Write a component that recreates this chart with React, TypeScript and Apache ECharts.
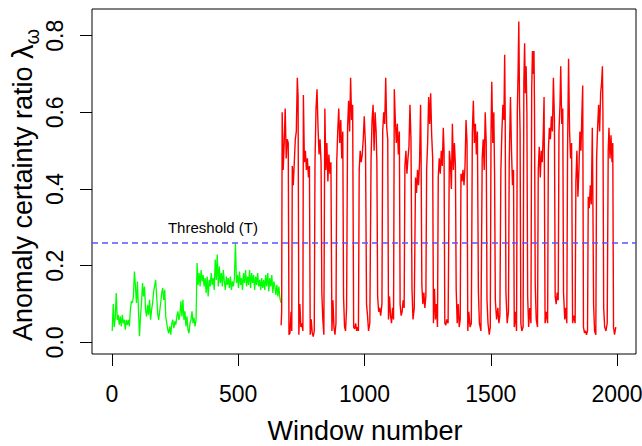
import React, { useEffect, useRef } from "react";
import * as echarts from "echarts";

const xTicks = [0, 500, 1000, 1500, 2000];
const yTicks = [0, 0.2, 0.4, 0.6, 0.8];
const threshold = 0.26;
const thresholdLabel = "Threshold (T)";
const thresholdLabelAt = [400, 0.3];
const xTitle = "Window number";
const yTitleMain = "Anomaly certainty ratio ";
const yTitleSymbol = "λ";
const yTitleSub = "ω";

// Green segment: one value every 4 windows starting at window 1
const greenStart = 1;
const greenStep = 4;
const greenValues = [
  0.03, 0.10, 0.04, 0.064, 0.129, 0.059, 0.072, 0.046, 0.068, 0.042,
  0.072, 0.05, 0.059, 0.033, 0.059, 0.046, 0.059, 0.042, 0.085, 0.107,
  0.103, 0.12, 0.185, 0.146, 0.103, 0.159, 0.085, 0.016, 0.068, 0.103,
  0.155, 0.12, 0.146, 0.085, 0.068, 0.098, 0.072, 0.111, 0.059, 0.085,
  0.103, 0.133, 0.146, 0.163, 0.12, 0.076, 0.059, 0.081, 0.103, 0.129,
  0.142, 0.111, 0.137, 0.068, 0.05, 0.033, 0.024, 0.042, 0.02, 0.05,
  0.059, 0.037, 0.055, 0.046, 0.068, 0.081, 0.059, 0.072, 0.107, 0.068,
  0.111, 0.059, 0.081, 0.042, 0.068, 0.033, 0.024, 0.05, 0.059, 0.081,
  0.05, 0.064, 0.042, 0.059, 0.207, 0.15, 0.181, 0.146, 0.189, 0.159,
  0.176, 0.146, 0.168, 0.129, 0.172, 0.12, 0.163, 0.146, 0.181, 0.15,
  0.168, 0.137, 0.216, 0.163, 0.229, 0.146, 0.198, 0.155, 0.181, 0.146,
  0.189, 0.159, 0.137, 0.172, 0.15, 0.168, 0.142, 0.172, 0.137, 0.159,
  0.146, 0.168, 0.259, 0.155, 0.176, 0.142, 0.185, 0.15, 0.168, 0.137,
  0.181, 0.155, 0.189, 0.146, 0.172, 0.15, 0.189, 0.142, 0.181, 0.155,
  0.176, 0.137, 0.172, 0.15, 0.181, 0.146, 0.163, 0.137, 0.168, 0.142,
  0.163, 0.137, 0.176, 0.146, 0.181, 0.133, 0.168, 0.146, 0.176, 0.129,
  0.159, 0.146, 0.124, 0.15, 0.12, 0.146, 0.116, 0.103,
];

// Red segment: [window, value]
const redPoints = [
  [670, 0.045], [672, 0.08],
  [674, 0.60], [678, 0.45], [682, 0.52], [686, 0.61], [690, 0.48], [694, 0.53], [698, 0.52],
  [701, 0.02], [705, 0.025], [709, 0.08], [712, 0.03],
  [714, 0.46], [718, 0.41], [722, 0.47], [726, 0.53], [730, 0.55], [734, 0.69], [737, 0.64],
  [740, 0.02], [744, 0.10], [748, 0.04], [752, 0.05], [756, 0.03],
  [758, 0.645], [762, 0.47], [766, 0.50], [770, 0.45], [774, 0.48], [778, 0.43], [782, 0.46],
  [785, 0.02], [789, 0.06], [793, 0.025], [797, 0.015], [801, 0.03],
  [804, 0.47], [808, 0.61], [812, 0.66], [816, 0.56], [820, 0.49], [824, 0.53], [828, 0.47],
  [831, 0.13], [835, 0.06], [839, 0.02],
  [843, 0.61], [847, 0.45], [851, 0.52], [855, 0.42], [859, 0.49], [863, 0.44], [867, 0.47],
  [871, 0.03], [875, 0.11], [879, 0.04], [883, 0.02], [887, 0.05],
  [890, 0.47], [894, 0.55], [898, 0.61], [902, 0.52], [906, 0.58], [910, 0.48], [914, 0.55],
  [917, 0.12], [921, 0.04], [925, 0.03], [929, 0.09],
  [933, 0.56], [937, 0.63], [941, 0.55], [945, 0.69], [949, 0.58], [953, 0.62],
  [957, 0.04], [961, 0.035], [965, 0.05], [969, 0.03], [973, 0.04], [976, 0.03],
  [979, 0.45], [983, 0.50], [987, 0.47], [991, 0.49], [995, 0.53], [999, 0.59], [1004, 0.51],
  [1008, 0.10], [1012, 0.07], [1016, 0.03], [1021, 0.05],
  [1026, 0.48], [1030, 0.58], [1034, 0.62], [1038, 0.50], [1042, 0.60], [1046, 0.55], [1049, 0.47],
  [1052, 0.12], [1056, 0.08], [1060, 0.09], [1064, 0.07], [1069, 0.10],
  [1072, 0.55], [1076, 0.60], [1080, 0.57], [1084, 0.69], [1088, 0.56], [1092, 0.53],
  [1095, 0.06], [1099, 0.12], [1103, 0.07], [1107, 0.05], [1111, 0.09], [1115, 0.06],
  [1118, 0.66], [1122, 0.58], [1126, 0.52], [1130, 0.57], [1134, 0.49], [1138, 0.55],
  [1141, 0.10], [1145, 0.07], [1149, 0.08], [1153, 0.11], [1157, 0.09],
  [1160, 0.46], [1164, 0.50], [1168, 0.44], [1172, 0.48], [1176, 0.51], [1180, 0.62], [1184, 0.53],
  [1188, 0.14], [1192, 0.06], [1197, 0.09],
  [1202, 0.43], [1206, 0.39], [1210, 0.45], [1214, 0.41], [1218, 0.47], [1222, 0.62], [1224, 0.50],
  [1227, 0.15], [1231, 0.10], [1235, 0.13], [1239, 0.09], [1243, 0.12],
  [1246, 0.45], [1250, 0.52], [1254, 0.64], [1258, 0.57], [1262, 0.65], [1266, 0.54], [1270, 0.48],
  [1273, 0.05], [1277, 0.14], [1281, 0.06], [1285, 0.10], [1289, 0.04],
  [1292, 0.43], [1296, 0.48], [1300, 0.44], [1304, 0.50], [1308, 0.46], [1312, 0.56], [1315, 0.50],
  [1318, 0.05], [1322, 0.045], [1326, 0.06], [1331, 0.05],
  [1336, 0.50], [1340, 0.47], [1344, 0.40], [1348, 0.57], [1352, 0.45], [1356, 0.52], [1360, 0.46],
  [1363, 0.14], [1367, 0.05], [1371, 0.10], [1375, 0.04], [1379, 0.06],
  [1382, 0.44], [1386, 0.42], [1390, 0.45], [1394, 0.41], [1398, 0.46], [1402, 0.58], [1406, 0.52],
  [1409, 0.03], [1413, 0.08], [1418, 0.04], [1423, 0.05],
  [1427, 0.55], [1431, 0.63], [1435, 0.52], [1439, 0.57], [1443, 0.49], [1447, 0.55],
  [1451, 0.13], [1455, 0.05], [1461, 0.03],
  [1466, 0.48], [1470, 0.53], [1474, 0.45], [1478, 0.60], [1482, 0.52],
  [1485, 0.11], [1489, 0.05], [1494, 0.02], [1498, 0.04],
  [1501, 0.55], [1504, 0.68], [1508, 0.52], [1512, 0.60], [1515, 0.44],
  [1518, 0.11], [1523, 0.06], [1528, 0.09], [1532, 0.05], [1536, 0.07],
  [1540, 0.45], [1544, 0.55], [1548, 0.62], [1552, 0.58], [1555, 0.75], [1557, 0.60],
  [1560, 0.13], [1565, 0.05], [1570, 0.08],
  [1573, 0.47], [1578, 0.64], [1582, 0.50], [1586, 0.41], [1590, 0.45],
  [1593, 0.04], [1597, 0.08], [1602, 0.03],
  [1605, 0.60], [1608, 0.70], [1611, 0.837], [1614, 0.62], [1616, 0.55],
  [1619, 0.05], [1623, 0.03], [1628, 0.04],
  [1631, 0.68], [1634, 0.78], [1637, 0.65], [1640, 0.72], [1643, 0.60],
  [1646, 0.12], [1650, 0.04], [1654, 0.09], [1659, 0.05],
  [1662, 0.66], [1665, 0.76], [1668, 0.70], [1671, 0.76], [1673, 0.62],
  [1676, 0.15], [1680, 0.06], [1685, 0.04],
  [1688, 0.45], [1692, 0.51], [1696, 0.43], [1700, 0.50], [1704, 0.47], [1708, 0.55], [1711, 0.64],
  [1715, 0.05], [1720, 0.08], [1725, 0.05],
  [1728, 0.50], [1732, 0.56], [1736, 0.53], [1740, 0.59], [1744, 0.55], [1748, 0.69], [1752, 0.58],
  [1755, 0.12], [1759, 0.10], [1763, 0.13], [1767, 0.11],
  [1770, 0.55], [1774, 0.62], [1777, 0.72], [1781, 0.57], [1785, 0.61],
  [1788, 0.13], [1793, 0.06], [1797, 0.09], [1801, 0.05],
  [1804, 0.50], [1808, 0.74], [1812, 0.55], [1816, 0.48], [1820, 0.52],
  [1824, 0.05], [1829, 0.07], [1834, 0.05],
  [1837, 0.42], [1841, 0.50], [1845, 0.38], [1849, 0.45], [1853, 0.55], [1857, 0.50], [1861, 0.60], [1864, 0.67],
  [1867, 0.04], [1871, 0.025], [1875, 0.03], [1879, 0.02], [1883, 0.03],
  [1886, 0.38], [1890, 0.35], [1894, 0.41], [1898, 0.36], [1902, 0.56], [1904, 0.40],
  [1907, 0.10], [1911, 0.03], [1916, 0.02],
  [1919, 0.48], [1923, 0.56], [1927, 0.62], [1931, 0.55], [1935, 0.65], [1939, 0.68], [1942, 0.72], [1944, 0.60],
  [1947, 0.09], [1951, 0.04], [1956, 0.03], [1961, 0.05],
  [1965, 0.50], [1968, 0.56], [1972, 0.48], [1976, 0.54], [1980, 0.47], [1983, 0.52],
  [1986, 0.04], [1990, 0.02], [1995, 0.04],
];

const FONT = "'Liberation Sans', Arial, Helvetica, sans-serif";

export default function App() {
  const ref = useRef<HTMLDivElement>(null);

  useEffect(() => {
    if (!ref.current) return;
    const chart = echarts.init(ref.current, null, { renderer: "svg" });
    const greenData = greenValues.map((v, i) => [greenStart + i * greenStep, v]);

    chart.setOption({
      animation: false,
      backgroundColor: "#ffffff",
      grid: {
        left: 92,
        right: 6,
        top: 9,
        bottom: 92,
        show: true,
        borderColor: "#000",
        borderWidth: 1,
        backgroundColor: "transparent",
        containLabel: false,
        outerBoundsMode: "none",
      },
      xAxis: {
        type: "value",
        min: -79,
        max: 2075,
        axisLine: { show: false, onZero: false },
        splitLine: { show: false },
        axisTick: {
          show: true,
          length: 12,
          customValues: xTicks,
          lineStyle: { color: "#000", width: 1 },
        },
        axisLabel: {
          customValues: xTicks,
          fontSize: 23,
          fontFamily: FONT,
          color: "#000",
          margin: 28,
          formatter: (v: number) => String(v),
        },
      },
      yAxis: {
        type: "value",
        min: -0.0302,
        max: 0.8696,
        axisLine: { show: false, onZero: false },
        splitLine: { show: false },
        axisTick: {
          show: true,
          length: 12,
          customValues: yTicks,
          lineStyle: { color: "#000", width: 1 },
        },
        axisLabel: {
          customValues: yTicks,
          fontSize: 23,
          fontFamily: FONT,
          color: "#000",
          rotate: 90,
          align: "center",
          verticalAlign: "bottom",
          margin: 26,
          formatter: (v: number) => v.toFixed(1),
        },
      },
      graphic: [
        {
          type: "text",
          x: 365,
          y: 431,
          style: {
            text: xTitle,
            fontSize: 27,
            fontFamily: FONT,
            fill: "#000",
            align: "center",
            verticalAlign: "middle",
            textAlign: "center",
            textVerticalAlign: "middle",
          },
        },
        {
          type: "text",
          x: 23,
          y: 185,
          rotation: Math.PI / 2,
          style: {
            text: `{a|${yTitleMain}}{b|${yTitleSymbol}}{c|${yTitleSub}}`,
            fill: "#000",
            align: "center",
            verticalAlign: "middle",
            textAlign: "center",
            textVerticalAlign: "middle",
            rich: {
              a: { fontSize: 27, fontFamily: FONT, fill: "#000", lineHeight: 38, verticalAlign: "middle" },
              b: { fontSize: 29, fontFamily: FONT, fill: "#000", lineHeight: 38, verticalAlign: "middle" },
              c: { fontSize: 20, fontFamily: FONT, fill: "#000", lineHeight: 20, verticalAlign: "bottom" },
            },
          },
        },
      ],
      series: [
        {
          type: "line",
          data: greenData,
          symbol: "none",
          showSymbol: false,
          silent: true,
          lineStyle: { color: "#00ff00", width: 1.3 },
          itemStyle: { color: "#00ff00" },
          z: 2,
        },
        {
          type: "line",
          data: redPoints,
          symbol: "none",
          showSymbol: false,
          silent: true,
          lineStyle: { color: "#ff0000", width: 1.4 },
          itemStyle: { color: "#ff0000" },
          z: 3,
          markLine: {
            silent: true,
            symbol: ["none", "none"],
            data: [{ yAxis: threshold }],
            lineStyle: { color: "#5555ff", width: 1.5, type: [6, 4] },
            label: { show: false },
            z: 5,
          },
          markPoint: {
            silent: true,
            symbol: "rect",
            symbolSize: 0,
            data: [{ coord: thresholdLabelAt }],
            label: {
              show: true,
              position: "inside",
              formatter: thresholdLabel,
              fontSize: 15,
              fontFamily: FONT,
              color: "#000",
            },
          },
        },
      ],
    });

    return () => chart.dispose();
  }, []);

  return (
    <div
      ref={ref}
      style={{ position: "fixed", left: 0, top: 0, width: 642, height: 446, background: "#fff" }}
    />
  );
}
